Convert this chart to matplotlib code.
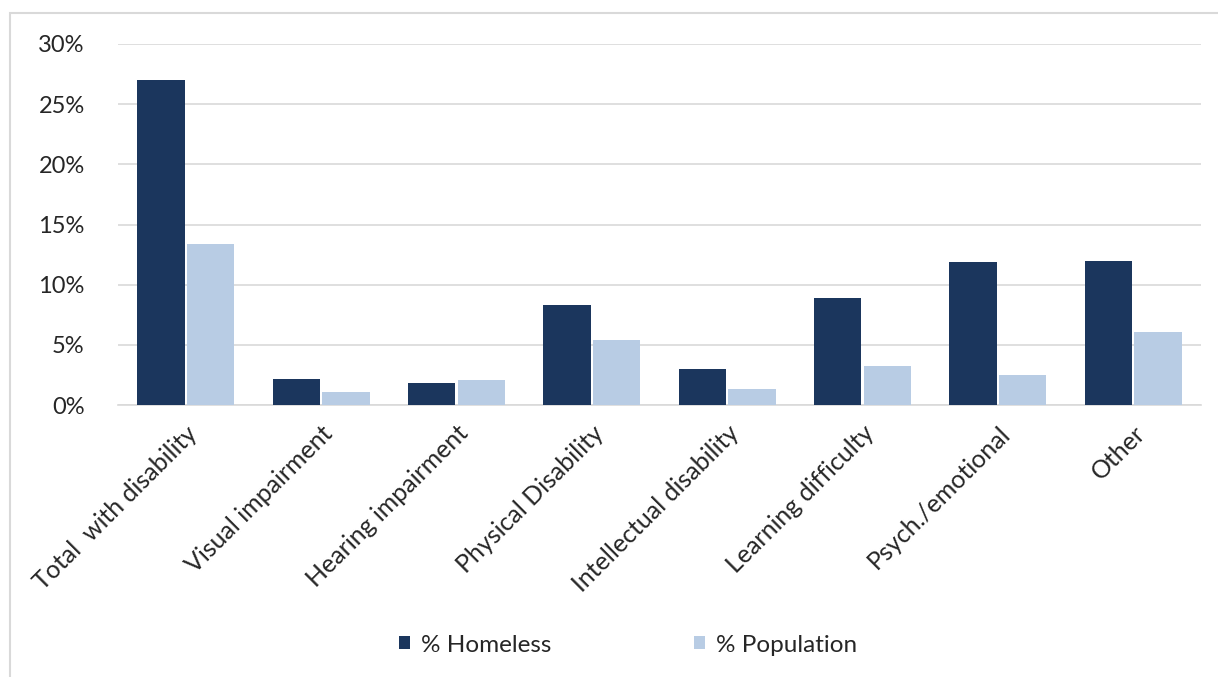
import matplotlib
matplotlib.use("Agg")
import matplotlib.pyplot as plt
import numpy as np
from matplotlib.patches import Rectangle
from matplotlib.ticker import FuncFormatter

categories = ["Total  with disability", "Visual impairment", "Hearing impairment",
              "Physical Disability", "Intellectual disability", "Learning difficulty",
              "Psych./emotional", "Other"]
homeless = [27.0, 2.2, 1.8, 8.3, 3.0, 8.9, 11.9, 12.0]
population = [13.4, 1.1, 2.1, 5.4, 1.3, 3.2, 2.5, 6.1]
series_names = ["% Homeless", "% Population"]
yticks = [0, 5, 10, 15, 20, 25, 30]

plt.rcParams['font.family'] = ['Lato', 'DejaVu Sans']

fig = plt.figure(figsize=(12.18, 6.77), dpi=100)
W, H = 1218, 677
ax = fig.add_axes([118 / W, 1 - 405 / H, (1201 - 118) / W, (405 - 44) / H])

x = np.arange(len(categories))
bw = 0.35
gap = 0.008
ax.bar(x - bw / 2 - gap, homeless, bw, color="#1b365d", label=series_names[0], zorder=3)
ax.bar(x + bw / 2 + gap, population, bw, color="#b8cce4", label=series_names[1], zorder=3)

ax.set_xlim(-0.5, len(categories) - 0.5)
ax.set_ylim(0, 30)
ax.set_yticks(yticks)
ax.yaxis.set_major_formatter(FuncFormatter(lambda v, p: f"{v:.0f}%"))
ax.grid(axis="y", color="#d9d9d9", linewidth=1.2, zorder=0)
for s in ["top", "right", "left"]:
    ax.spines[s].set_visible(False)
ax.spines["bottom"].set_color("#d9d9d9")
ax.spines["bottom"].set_linewidth(1.2)
ax.tick_params(axis="both", length=0, colors="#262626")
ax.tick_params(axis="y", labelsize=17, pad=24)
ax.set_xticks(x)
ax.set_xticklabels(categories, rotation=45, ha="right", va="top", rotation_mode="anchor")
ax.tick_params(axis="x", labelsize=18, pad=12)

fig.legend(loc="center", bbox_to_anchor=(628 / W, 1 - 645 / H), ncol=2, frameon=False,
           fontsize=17.5, columnspacing=5.9, handlelength=0.45, handleheight=0.45,
           handletextpad=0.45, labelcolor="#262626")

border = Rectangle((10 / W, -0.05), 1.2, 1.05 - 13 / H, transform=fig.transFigure,
                   fill=False, edgecolor="#d9d9d9", linewidth=1.5)
fig.patches.append(border)

fig.savefig("out.png", dpi=100)
